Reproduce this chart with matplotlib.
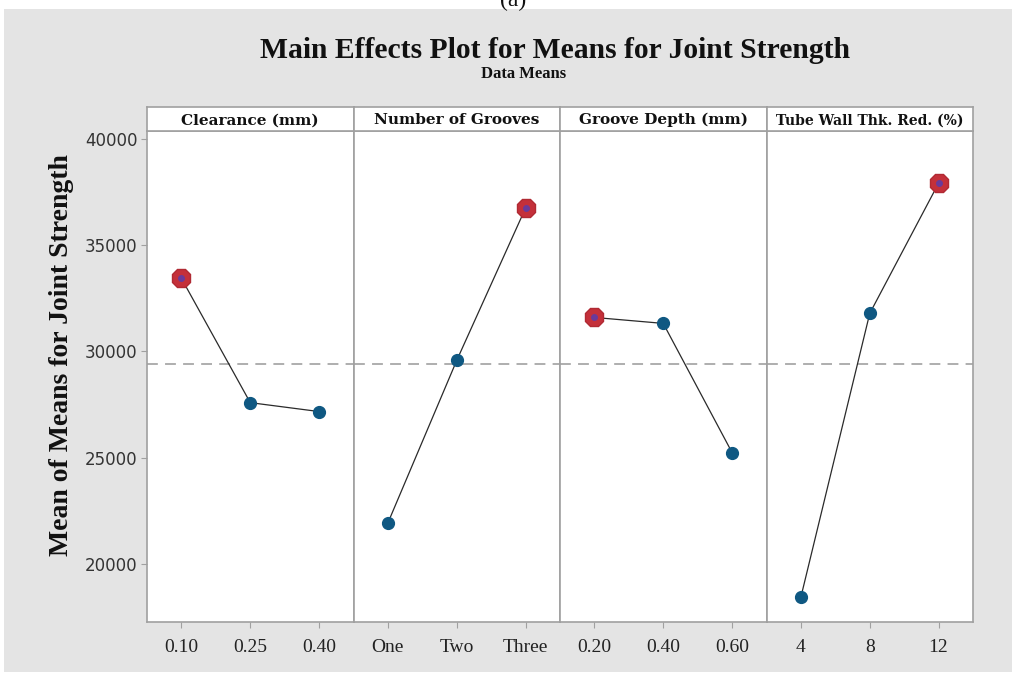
import matplotlib
matplotlib.use('Agg')
import matplotlib.pyplot as plt

# Factor names and level labels
factors = ['Clearance (mm)', 'Number of Grooves', 'Groove Depth (mm)', 'Tube Wall Thk. Red. (%)']
clearance_levels = ['0.10', '0.25', '0.40']
grooves_levels = ['One', 'Two', 'Three']
depth_levels = ['0.20', '0.40', '0.60']
thk_levels = ['4', '8', '12']

# Mean of means
clearance_means = [33440, 27590, 27170]
grooves_means = [21930, 29580, 36750]
depth_means = [31600, 31320, 25240]
thk_means = [18440, 31790, 37920]
grand_mean = 29420

levels = [clearance_levels, grooves_levels, depth_levels, thk_levels]
means = [clearance_means, grooves_means, depth_means, thk_means]

W, H = 1019, 673
fig = plt.figure(figsize=(W / 100, H / 100), dpi=100)
fig.patch.set_facecolor('white')

# gray background panel (behind the axes)
bg = fig.add_axes([4 / W, 1 / H, 1008 / W, 663 / H], zorder=-5)
bg.set_facecolor('#e4e4e4')
bg.set_xticks([])
bg.set_yticks([])
for s in bg.spines.values():
    s.set_visible(False)

serif = 'Liberation Serif'
sans = 'DejaVu Sans'
frame_col = '#a0a0a0'
blue = '#0f5882'
red = '#c4303a'

left0 = 147 / W
pw = 206.5 / W
bottom = (H - 622) / H
ph = (622 - 131) / H
strip_b = (H - 131) / H
strip_h = 24 / H

for i, (name, lv, mv) in enumerate(zip(factors, levels, means)):
    ax = fig.add_axes([left0 + i * pw, bottom, pw, ph])
    ax.set_facecolor('white')
    x = list(range(len(lv)))
    ax.axhline(grand_mean, color='#a8a8a8', linestyle=(0, (6, 4)), linewidth=1.3, zorder=1)
    ax.plot(x, mv, color='#2a2a2a', linewidth=0.9, zorder=2)
    ax.plot(x, mv, linestyle='none', marker='o', markersize=8.5, color=blue, zorder=3)
    k = mv.index(max(mv))
    ax.plot([x[k]], [mv[k]], linestyle='none', marker='8', markersize=14,
            markerfacecolor=red, markeredgecolor='#b02a33', zorder=4)
    ax.plot([x[k]], [mv[k]], linestyle='none', marker='o', markersize=4,
            color='#6a3a9a', zorder=5)
    ax.set_xlim(-0.5, len(lv) - 0.5)
    ax.set_ylim(17264, 40377)
    ax.set_xticks(x)
    ax.set_xticklabels(lv, fontfamily=serif, fontsize=14, color='#222222')
    ax.set_yticks([20000, 25000, 30000, 35000, 40000])
    for s in ax.spines.values():
        s.set_color(frame_col)
        s.set_linewidth(1.2)
    ax.tick_params(axis='x', direction='out', length=4, color=frame_col, pad=8)
    if i == 0:
        ax.tick_params(axis='y', direction='out', length=4, color=frame_col, labelsize=12,
                       labelcolor='#333333', pad=3)
        for t in ax.get_yticklabels():
            t.set_fontfamily(sans)
    else:
        ax.tick_params(axis='y', left=False, labelleft=False)

    # strip header
    sax = fig.add_axes([left0 + i * pw, strip_b, pw, strip_h])
    sax.set_facecolor('white')
    sax.set_xticks([])
    sax.set_yticks([])
    for s in sax.spines.values():
        s.set_color(frame_col)
        s.set_linewidth(1.2)
    sax.text(0.5, 0.45, name, ha='center', va='center', fontfamily='DejaVu Serif',
             fontweight='bold', fontsize=11 if i < 3 else 10, color='#111111',
             transform=sax.transAxes)

fig.text(513 / W, 1.0, '(a)', ha='center', va='center', fontfamily=serif, fontsize=17, color='#111111')
fig.text(555 / W, 1 - 51 / H, 'Main Effects Plot for Means for Joint Strength', ha='center', va='center',
         fontfamily=serif, fontweight='bold', fontsize=21.3, color='#111111')
fig.text(524 / W, 1 - 74 / H, 'Data Means', ha='center', va='center',
         fontfamily=serif, fontweight='bold', fontsize=12, color='#111111')
fig.text(62 / W, 1 - 355 / H, 'Mean of Means for Joint Strength', ha='center', va='center', rotation=90,
         fontfamily=serif, fontweight='bold', fontsize=20, color='#111111')

fig.savefig('out.png', dpi=100, facecolor='white')
